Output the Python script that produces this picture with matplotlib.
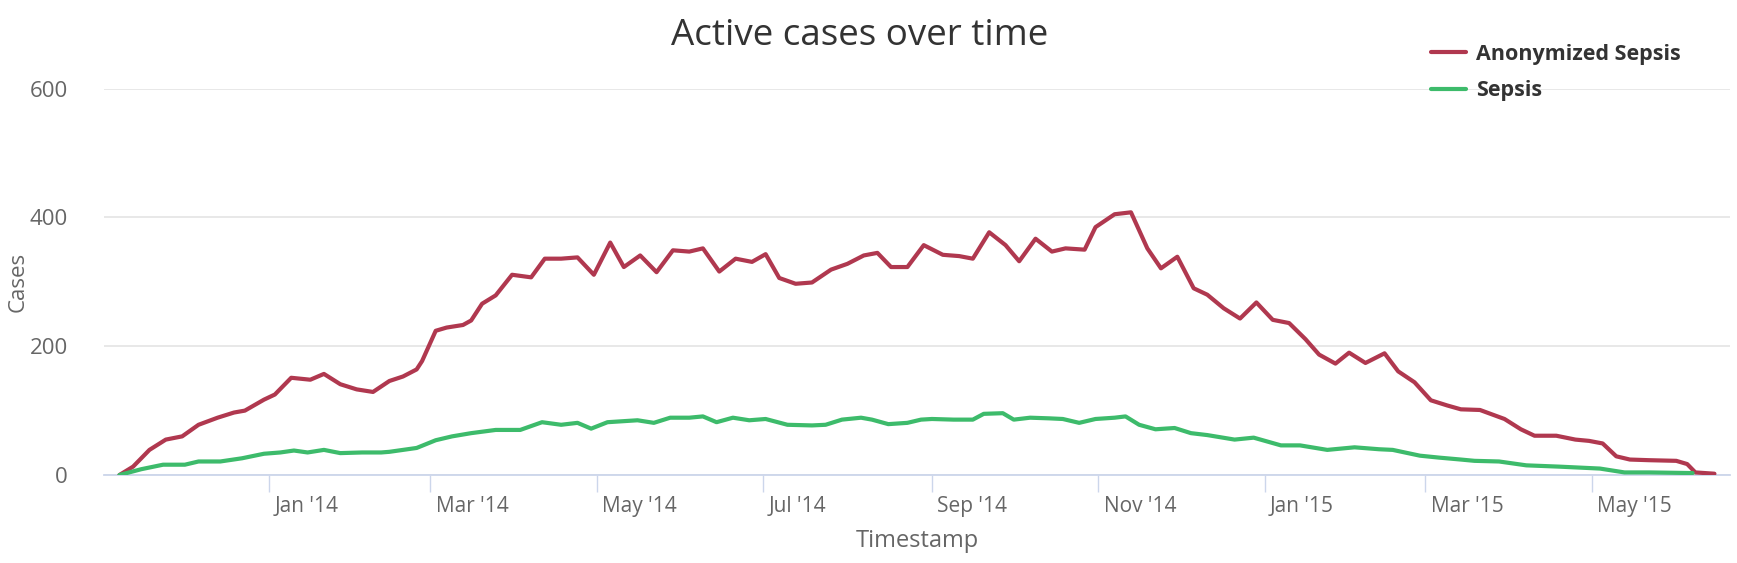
import matplotlib
matplotlib.use('Agg')
import matplotlib.pyplot as plt
import matplotlib.transforms as mtransforms
import pandas as pd

# values
anon_dates = ['2013-11-07', '2013-11-12', '2013-11-18', '2013-11-24', '2013-11-30', '2013-12-06',
              '2013-12-13', '2013-12-19', '2013-12-23', '2013-12-30', '2014-01-03', '2014-01-09',
              '2014-01-16', '2014-01-21', '2014-01-27', '2014-02-02', '2014-02-08', '2014-02-14',
              '2014-02-19', '2014-02-24', '2014-02-26', '2014-03-03', '2014-03-07', '2014-03-13',
              '2014-03-16', '2014-03-20', '2014-03-25', '2014-03-31', '2014-04-07', '2014-04-12',
              '2014-04-18', '2014-04-24', '2014-04-30', '2014-05-06', '2014-05-11', '2014-05-17',
              '2014-05-23', '2014-05-29', '2014-06-04', '2014-06-09', '2014-06-15', '2014-06-21',
              '2014-06-27', '2014-07-02', '2014-07-07', '2014-07-13', '2014-07-19', '2014-07-26',
              '2014-08-01', '2014-08-07', '2014-08-12', '2014-08-17', '2014-08-23', '2014-08-29',
              '2014-09-05', '2014-09-11', '2014-09-16', '2014-09-22', '2014-09-28', '2014-10-03',
              '2014-10-09', '2014-10-15', '2014-10-20', '2014-10-27', '2014-10-31', '2014-11-07',
              '2014-11-13', '2014-11-19', '2014-11-24', '2014-11-30', '2014-12-06', '2014-12-11',
              '2014-12-17', '2014-12-23', '2014-12-29', '2015-01-04', '2015-01-10', '2015-01-16',
              '2015-01-21', '2015-01-27', '2015-02-01', '2015-02-07', '2015-02-14', '2015-02-19',
              '2015-02-25', '2015-03-03', '2015-03-09', '2015-03-14', '2015-03-21', '2015-03-30',
              '2015-04-05', '2015-04-10', '2015-04-18', '2015-04-25', '2015-04-30', '2015-05-05',
              '2015-05-10', '2015-05-15', '2015-05-22', '2015-06-01', '2015-06-05', '2015-06-08',
              '2015-06-15']
anon_cases = [0, 13, 39, 55, 60, 78,
              89, 97, 100, 117, 125, 151,
              148, 157, 141, 133, 129, 146,
              153, 164, 177, 224, 229, 233,
              240, 266, 279, 311, 307, 336,
              336, 338, 311, 361, 323, 341,
              315, 349, 347, 352, 316, 336,
              331, 343, 306, 297, 299, 319,
              328, 341, 345, 323, 323, 357,
              342, 340, 336, 377, 357, 332,
              367, 347, 352, 350, 385, 405,
              408, 352, 321, 339, 290, 280,
              259, 243, 268, 241, 236, 211,
              187, 173, 190, 174, 189, 161,
              144, 116, 108, 102, 101, 87,
              71, 61, 61, 55, 53, 49,
              29, 24, 23, 22, 17, 4,
              2]

sepsis_dates = ['2013-11-07', '2013-11-15', '2013-11-23', '2013-12-01', '2013-12-06', '2013-12-14',
                '2013-12-22', '2013-12-30', '2014-01-05', '2014-01-10', '2014-01-15', '2014-01-21',
                '2014-01-27', '2014-02-04', '2014-02-11', '2014-02-14', '2014-02-24', '2014-03-03',
                '2014-03-09', '2014-03-16', '2014-03-25', '2014-04-03', '2014-04-11', '2014-04-18',
                '2014-04-24', '2014-04-29', '2014-05-05', '2014-05-16', '2014-05-22', '2014-05-28',
                '2014-06-04', '2014-06-09', '2014-06-14', '2014-06-20', '2014-06-26', '2014-07-02',
                '2014-07-10', '2014-07-19', '2014-07-24', '2014-07-30', '2014-08-06', '2014-08-10',
                '2014-08-16', '2014-08-23', '2014-08-28', '2014-09-01', '2014-09-09', '2014-09-16',
                '2014-09-20', '2014-09-27', '2014-10-01', '2014-10-07', '2014-10-14', '2014-10-19',
                '2014-10-25', '2014-10-31', '2014-11-07', '2014-11-11', '2014-11-16', '2014-11-22',
                '2014-11-29', '2014-12-05', '2014-12-11', '2014-12-21', '2014-12-28', '2015-01-07',
                '2015-01-14', '2015-01-24', '2015-02-03', '2015-02-12', '2015-02-17', '2015-02-27',
                '2015-03-06', '2015-03-14', '2015-03-19', '2015-03-28', '2015-04-07', '2015-04-19',
                '2015-05-04', '2015-05-13', '2015-05-22', '2015-06-07']
sepsis_cases = [0, 9, 16, 16, 21, 21,
                26, 33, 35, 38, 35, 39,
                34, 35, 35, 36, 42, 54,
                60, 65, 70, 70, 82, 78,
                81, 72, 82, 85, 81, 89,
                89, 91, 82, 89, 85, 87,
                78, 77, 78, 86, 89, 86,
                79, 81, 86, 87, 86, 86,
                95, 96, 86, 89, 88, 87,
                81, 87, 89, 91, 78, 71,
                73, 65, 62, 55, 58, 46,
                46, 39, 43, 40, 39, 30,
                27, 24, 22, 21, 15, 13,
                10, 4, 4, 3]

tick_dates = ['2014-01-01', '2014-03-01', '2014-05-01', '2014-07-01', '2014-09-01',
              '2014-11-01', '2015-01-01', '2015-03-01', '2015-05-01']
tick_labels = ["Jan '14", "Mar '14", "May '14", "Jul '14", "Sep '14",
               "Nov '14", "Jan '15", "Mar '15", "May '15"]
y_ticks = [0, 200, 400, 600]

plt.rcParams['font.family'] = ['Open Sans', 'DejaVu Sans']

W, H = 1737, 563
fig = plt.figure(figsize=(W / 100, H / 100), dpi=100)
ax = fig.add_axes([104 / W, 1 - 475 / H, (1730 - 104) / W, (475 - 88.7) / H])

ax.plot(pd.to_datetime(anon_dates), anon_cases, color='#b0384f', lw=3,
        label='Anonymized Sepsis', solid_joinstyle='round', solid_capstyle='round', zorder=3)
ax.plot(pd.to_datetime(sepsis_dates), sepsis_cases, color='#3dbb6b', lw=3,
        label='Sepsis', solid_joinstyle='round', solid_capstyle='round', zorder=3)

ax.set_xlim(pd.Timestamp('2013-11-01 08:00'), pd.Timestamp('2015-06-20 17:00'))
ax.set_ylim(0, 600)

ax.set_yticks(y_ticks)
ax.yaxis.grid(True, color='#e6e6e6', lw=1.3)
ax.set_axisbelow(True)
ax.tick_params(axis='y', length=0, pad=26, labelsize=16, labelcolor='#666666')

ax.set_xticks(pd.to_datetime(tick_dates))
ax.set_xticklabels(tick_labels)
ax.tick_params(axis='x', length=12, width=1, color='#ccd6eb', pad=3,
               labelsize=15, labelcolor='#666666')
shift = mtransforms.ScaledTranslation(4 / 72, 0, fig.dpi_scale_trans)
for lab in ax.get_xticklabels():
    lab.set_ha('left')
    lab.set_transform(lab.get_transform() + shift)

for side in ['top', 'right', 'left']:
    ax.spines[side].set_visible(False)
ax.spines['bottom'].set_color('#ccd6eb')
ax.spines['bottom'].set_linewidth(1.3)

ax.set_xlabel('Timestamp', fontsize=17, color='#666666', labelpad=9)
ax.set_ylabel('Cases', fontsize=16, color='#666666', va='center')
ax.yaxis.set_label_coords(-86 / (1730 - 104), 0.5)

fig.text(860 / W, 1 - 36 / H, 'Active cases over time', ha='center', va='center',
         fontsize=26.5, color='#333333')

leg = fig.legend(loc='upper right', bbox_to_anchor=(1692 / W, 1 - 33 / H), frameon=False,
                 borderpad=0, handlelength=1.6, handletextpad=0.5, labelspacing=0.72,
                 prop={'size': 15.5, 'weight': 'bold'})
for t in leg.get_texts():
    t.set_color('#333333')

fig.savefig('out.png', dpi=100)
